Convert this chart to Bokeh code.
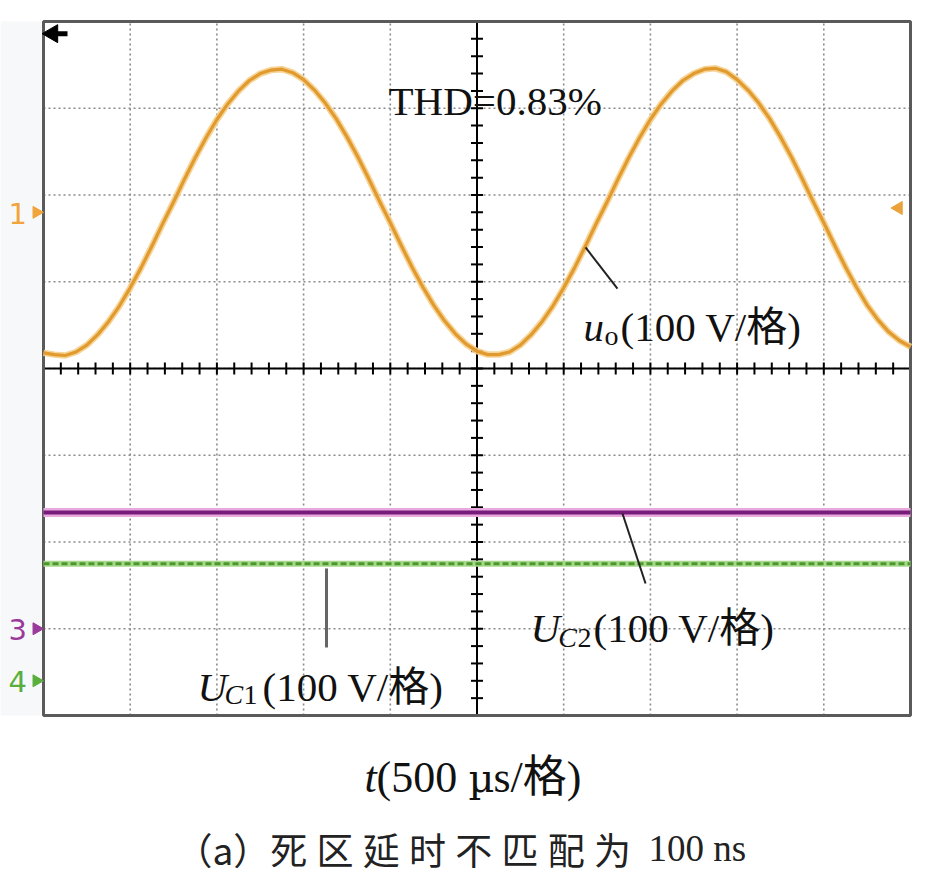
from bokeh.plotting import figure
from bokeh.models import Label, Range1d, ColumnDataSource
from bokeh.embed import file_html
from bokeh.resources import INLINE
import math

# ---------------- data ----------------
# time axis: 500 us per division, 10 divisions, sampled every 1/8 division
t_us = [0, 62.5, 125, 187.5, 250, 312.5, 375, 437.5, 500, 562.5, 625, 687.5,
        750, 812.5, 875, 937.5, 1000, 1062.5, 1125, 1187.5, 1250, 1312.5,
        1375, 1437.5, 1500, 1562.5, 1625, 1687.5, 1750, 1812.5, 1875, 1937.5,
        2000, 2062.5, 2125, 2187.5, 2250, 2312.5, 2375, 2437.5, 2500, 2562.5,
        2625, 2687.5, 2750, 2812.5, 2875, 2937.5, 3000, 3062.5, 3125, 3187.5,
        3250, 3312.5, 3375, 3437.5, 3500, 3562.5, 3625, 3687.5, 3750, 3812.5,
        3875, 3937.5, 4000, 4062.5, 4125, 4187.5, 4250, 4312.5, 4375, 4437.5,
        4500, 4562.5, 4625, 4687.5, 4750, 4812.5, 4875, 4937.5, 5000]
# output voltage u_o in volts (100 V per division)
uo_V = [-162, -164, -165, -161, -153, -141, -126, -108, -87, -64, -39, -13,
        12, 38, 63, 86, 107, 125, 140, 152, 160, 164, 165, 161, 153, 141, 126,
        108, 87, 64, 39, 13, -12, -38, -63, -86, -107, -125, -140, -152, -160,
        -164, -164, -161, -153, -141, -126, -108, -87, -64, -39, -13, 12, 38,
        63, 86, 107, 125, 140, 152, 160, 165, 166, 162, 153, 141, 126, 108, 87,
        64, 39, 13, -12, -38, -63, -86, -107, -124, -138, -148, -155]
# capacitor voltages (flat traces)
t_dc = [0, 5000]
uc2_V = [134, 134]
uc1_V = [135, 135]

# channel ground offsets (divisions from the bottom of the screen)
ch1_offset = 5.80
ch3_offset = 1.00
ch4_offset = 0.40
V_PER_DIV = 100.0

US_PER_DIV = 500.0
N_XDIV = 10
N_YDIV = 8

# ---------------- canvas geometry ----------------
W, H = 934, 896
SCR_L, SCR_R, SCR_T, SCR_B = 43, 910, 21, 715      # screen rectangle in pixels
XSPAN = US_PER_DIV * N_XDIV
ux = XSPAN / (SCR_R - SCR_L)       # us per pixel
uy = N_YDIV / (SCR_B - SCR_T)      # div per pixel

def px(xp):
    """pixel column -> data x"""
    return (xp - SCR_L) * ux

p = figure(frame_width=W, frame_height=H,
           x_range=Range1d(-SCR_L * ux, (W - SCR_L) * ux),
           y_range=Range1d(-(H - SCR_B) * uy, (SCR_B) * uy),
           x_axis_location=None, y_axis_location=None,
           toolbar_location=None, output_backend="svg",
           min_border=0, background_fill_color="white", border_fill_color="white",
           outline_line_color=None)
p.grid.visible = False

# faint side panel on the left of the screen
p.quad(left=[-SCR_L * ux], right=[-2 * ux], bottom=[0], top=[N_YDIV],
       fill_color="#f7f8fa", line_color=None)

# dotted graticule
gx = [US_PER_DIV * i for i in range(1, N_XDIV)]
gy = [float(i) for i in range(1, N_YDIV)]
p.segment(x0=gx, y0=[0] * len(gx), x1=gx, y1=[N_YDIV] * len(gx),
          line_color="#8a8a8a", line_dash="2 3", line_width=1.6)
p.segment(x0=[0] * len(gy), y0=gy, x1=[XSPAN] * len(gy), y1=gy,
          line_color="#8a8a8a", line_dash="2 3", line_width=1.6)

# centre cross with minor ticks (every 1/5 division)
xc = XSPAN / 2
yc = N_YDIV / 2
p.segment(x0=[0], y0=[yc], x1=[XSPAN], y1=[yc], line_color="black", line_width=2)
p.segment(x0=[xc], y0=[0], x1=[xc], y1=[N_YDIV], line_color="black", line_width=2)
xt = [i * US_PER_DIV / 5 for i in range(1, N_XDIV * 5)]
yt = [i / 5 for i in range(1, N_YDIV * 5)]
dx = 6 * ux
dy = 6 * uy
p.segment(x0=xt, y0=[yc - dy] * len(xt), x1=xt, y1=[yc + dy] * len(xt), line_color="black", line_width=2)
p.segment(x0=[xc - dx] * len(yt), y0=yt, x1=[xc + dx] * len(yt), y1=yt, line_color="black", line_width=2)

# screen border
p.quad(left=[0], right=[XSPAN], bottom=[0], top=[N_YDIV], fill_color=None,
       line_color="#5a5a5a", line_width=3)

# traces
uo_div = [ch1_offset + v / V_PER_DIV for v in uo_V]
uc2_div = [ch3_offset + v / V_PER_DIV for v in uc2_V]
uc1_div = [ch4_offset + v / V_PER_DIV for v in uc1_V]

src_uo = ColumnDataSource(dict(t=t_us, y=uo_div))
p.line("t", "y", source=src_uo, line_color="#f5cf8c", line_width=6.5, line_alpha=0.9,
       line_join="round")
p.line("t", "y", source=src_uo, line_color="#e19a2e", line_width=3.2, line_join="round")

p.line(t_dc, uc2_div, line_color="#e8a9df", line_width=9)
p.line(t_dc, uc2_div, line_color="#781c7c", line_width=4)

p.line(t_dc, uc1_div, line_color="#a8d88c", line_width=6)
p.line(t_dc, uc1_div, line_color="#4b982c", line_width=3, line_dash="6 3")

# trigger / level markers
p.scatter([XSPAN - 12 * ux], [ch1_offset + 0.05], marker="triangle", size=13,
          angle=math.pi / 2, fill_color="#eba23a", line_color="#eba23a")
p.scatter([9 * ux], [7.86], marker="triangle", size=18, angle=math.pi / 2,
          fill_color="black", line_color="black")
p.segment(x0=[9 * ux], y0=[7.86], x1=[24 * ux], y1=[7.86], line_color="black", line_width=5)

# channel markers on the left edge
for off, col in ((ch1_offset, "#f0a43a"), (ch3_offset, "#9a3a9a"), (ch4_offset, "#5aae3c")):
    p.scatter([-7 * ux], [off], marker="triangle", size=12, angle=-math.pi / 2,
              fill_color=col, line_color=col)

# leader lines
p.segment(x0=[3126], y0=[5.395], x1=[3310], y1=[4.922], line_color="#222222", line_width=2)
p.segment(x0=[3339], y0=[2.329], x1=[3472], y1=[1.522], line_color="#222222", line_width=2)
p.segment(x0=[1632], y0=[1.695], x1=[1632], y1=[0.784], line_color="#666666", line_width=3)

SERIF = "Liberation Serif, Noto Sans CJK SC"
BIG = "41px"
SUB = "28px"

def lab(x, y, text, size=BIG, style="normal", font=SERIF, color="#111111",
        align="left", baseline="alphabetic"):
    p.add_layout(Label(x=x, y=y, text=text, text_font=font, text_font_size=size,
                       text_font_style=style, text_color=color,
                       text_align=align, text_baseline=baseline))

# THD annotation
lab(1990, 7.078, "THD=0.83%")
# u_o label
lab(3114, 4.473, "u", style="italic")
lab(3235, 4.380, "o", size=SUB)
lab(3328, 4.473, "(100 V/格)")
# U_C2 label
lab(2808, 1.014, "U", style="italic")
lab(2968, 0.899, "C", size=SUB, style="italic")
lab(3080, 0.899, "2", size=SUB)
lab(3172, 1.014, "(100 V/格)")
# U_C1 label
lab(888, 0.334, "U", style="italic")
lab(1044, 0.242, "C", size=SUB, style="italic")
lab(1153, 0.242, "1", size=SUB)
lab(1263, 0.334, "(100 V/格)")

# channel numbers
for ch, off, col in (("1", ch1_offset, "#f0a43a"), ("3", ch3_offset, "#9a3a9a"), ("4", ch4_offset, "#5aae3c")):
    lab(px(8), off - 0.01, ch, size="29px", font="DejaVu Sans", color=col, baseline="middle")

# axis caption below the screen
yb = (SCR_B - 777) * uy
lab(px(364), yb, "t", size="44px", style="italic")
lab(px(376), yb, "(500 ", size="44px")
lab(px(468), yb, "\u00b5", size="40px", font="DejaVu Serif")
lab(px(493), yb, "s/格)", size="44px")

# figure caption
yc2 = (SCR_B - 848) * uy
lab(px(175), yc2, "（a）死\u2005区\u2005延\u2005时\u2005不\u2005匹\u2005配\u2005为",
    size="37px", font="Noto Sans CJK SC", color="#222222")
lab(px(648), yc2, "100 ns", size="37px", color="#222222")

open("out.html", "w").write(file_html(p, INLINE))
